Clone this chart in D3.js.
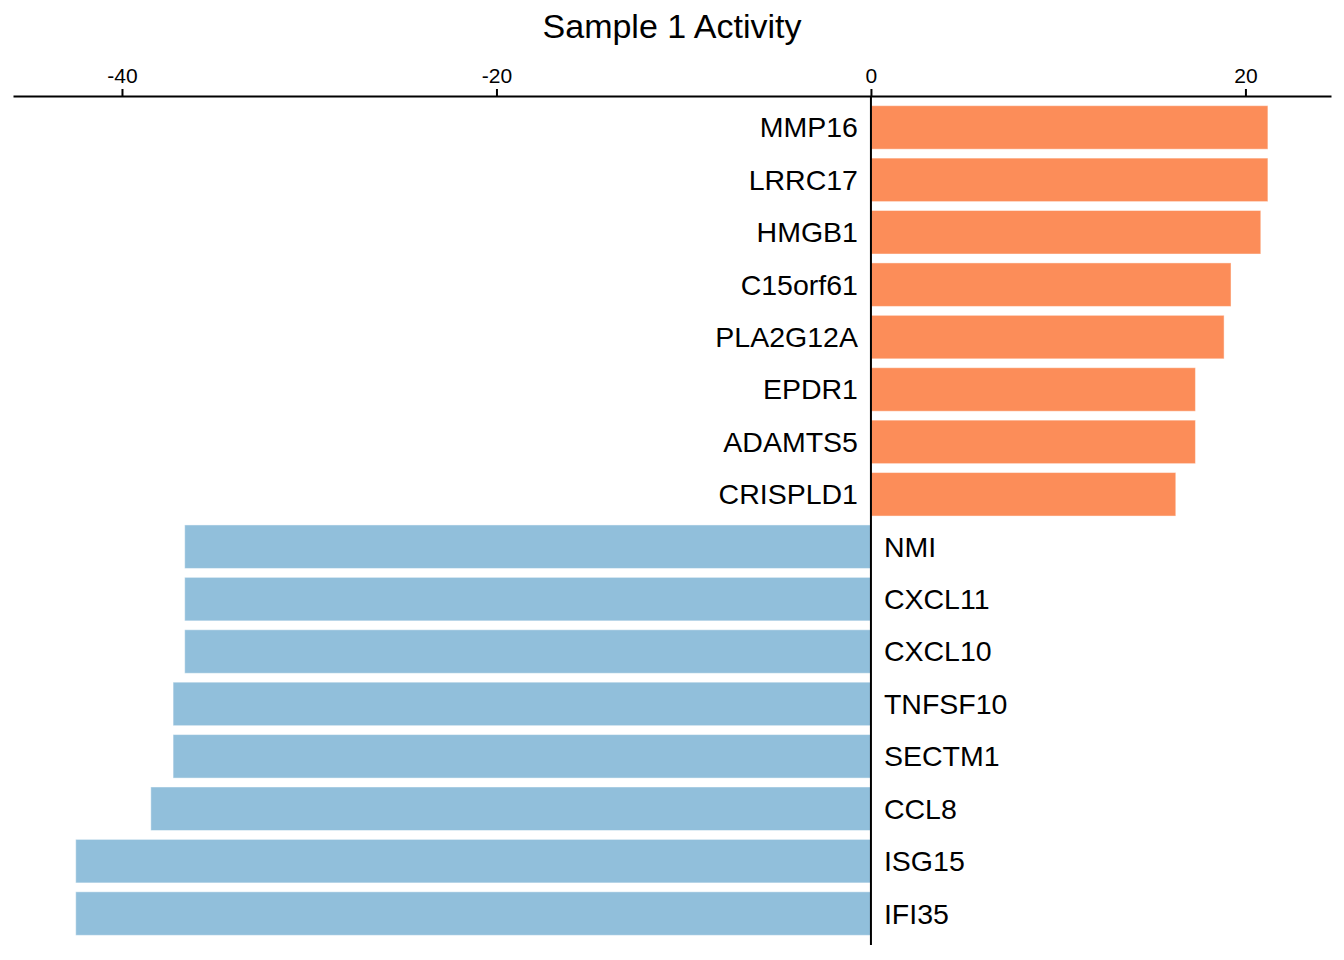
<!DOCTYPE html>
<html lang="en">
<head>
    <meta charset="UTF-8">
    <title>Sample 1 Activity</title>
    <script src="https://cdn.jsdelivr.net/npm/d3@7"></script>
    <style>
        body, html { margin: 0; background: #fff; }
        svg { display: block; font-family: 'Liberation Sans', Arial, sans-serif; }
        .title { font-size: 34px; text-anchor: middle; fill: #000; }
        .gene { font-size: 28.5px; fill: #000; }
        .tick text { font-size: 21px; fill: #000; }
    </style>
</head>
<body>
    <svg width="1344" height="960"></svg>
    <script>
        // genes ordered top to bottom, with their activity scores
        const genes = ["MMP16", "LRRC17", "HMGB1", "C15orf61", "PLA2G12A", "EPDR1", "ADAMTS5", "CRISPLD1",
                       "NMI", "CXCL11", "CXCL10", "TNFSF10", "SECTM1", "CCL8", "ISG15", "IFI35"];
        const scores = [21.2, 21.2, 20.82, 19.23, 18.86, 17.33, 17.33, 16.28,
                        -36.65, -36.65, -36.65, -37.27, -37.27, -38.46, -42.47, -42.47];
        const tickValues = [-40, -20, 0, 20];

        const posColor = "#fc8d59";
        const negColor = "#91bfdb";

        const svg = d3.select("svg");

        const x = d3.scaleLinear()
            .domain([-45.82, 24.57])
            .range([13, 1331]);

        const y = d3.scaleBand()
            .domain(genes)
            .range([96, 945])
            .paddingInner(0.17)
            .paddingOuter(0.185);

        const rows = genes.map((g, i) => ({ gene: g, score: scores[i] }));

        // bars
        svg.append("g")
            .selectAll("rect")
            .data(rows)
            .join("rect")
            .attr("x", d => x(Math.min(0, d.score)))
            .attr("y", d => y(d.gene))
            .attr("width", d => Math.abs(x(d.score) - x(0)))
            .attr("height", y.bandwidth())
            .attr("fill", d => d.score >= 0 ? posColor : negColor)
            .attr("stroke", "#fff")
            .attr("stroke-opacity", 0.45)
            .attr("stroke-width", 1);

        // gene labels on the opposite side of the zero line
        svg.append("g")
            .selectAll("text")
            .data(rows)
            .join("text")
            .attr("class", "gene")
            .attr("x", d => d.score >= 0 ? x(0) - 13 : x(0) + 13)
            .attr("y", d => y(d.gene) + y.bandwidth() / 2)
            .attr("dy", "0.35em")
            .attr("text-anchor", d => d.score >= 0 ? "end" : "start")
            .text(d => d.gene);

        // zero line
        svg.append("line")
            .attr("x1", x(0)).attr("x2", x(0))
            .attr("y1", 96).attr("y2", 945)
            .attr("stroke", "#000")
            .attr("stroke-width", 2);

        // top axis (plain hyphen for negatives, like the original)
        const axis = svg.append("g")
            .attr("transform", "translate(0,96)")
            .call(d3.axisTop(x).tickValues(tickValues).tickFormat(d => String(d))
                .tickSize(7).tickPadding(6).tickSizeOuter(0));
        axis.select(".domain").attr("stroke", "#000").attr("stroke-width", 2.2);
        axis.selectAll(".tick line").attr("stroke", "#000").attr("stroke-width", 2);
        axis.attr("font-family", null).attr("font-size", null);

        // title
        svg.append("text")
            .attr("class", "title")
            .attr("x", 672)
            .attr("y", 38)
            .text("Sample 1 Activity");
    </script>
</body>
</html>
